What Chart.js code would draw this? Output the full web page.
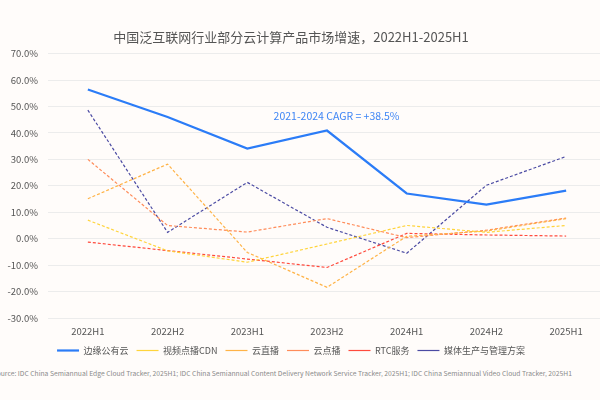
<!DOCTYPE html>
<html>
<head>
<meta charset="utf-8">
<script src="https://cdn.jsdelivr.net/npm/chart.js@4/dist/chart.umd.min.js"></script>
<style>
  html, body { margin: 0; padding: 0; background: #fffcfa; }
  body { width: 600px; height: 400px; overflow: hidden; position: relative; font-family: "Noto Sans CJK SC", "Noto Sans", sans-serif; }
  #wrap { position: absolute; left: -24px; top: 0; width: 630px; height: 367px; }
  #src { position: absolute; right: 28px; top: 368px; font-size: 6.76px; color: #8a8a8a; white-space: nowrap; }
</style>
</head>
<body>
<div id="wrap"><canvas id="chart"></canvas></div>
<div id="src">Source: IDC China Semiannual Edge Cloud Tracker, 2025H1; IDC China Semiannual Content Delivery Network Service Tracker, 2025H1; IDC China Semiannual Video Cloud Tracker, 2025H1</div>
<script>
const periods = ["2022H1", "2022H2", "2023H1", "2023H2", "2024H1", "2024H2", "2025H1"];
const seriesNames = ["边缘公有云", "视频点播CDN", "云直播", "云点播", "RTC服务", "媒体生产与管理方案"];
const edgeCloud = [56.4, 46.0, 34.1, 40.9, 17.1, 12.9, 18.2];
const vodCdn    = [7.0, -4.6, -8.9, -2.0, 5.0, 2.4, 5.0];
const liveCloud = [15.1, 28.2, -5.2, -18.4, 0.9, 2.9, 7.6];
const vodCloud  = [30.0, 5.0, 2.5, 7.6, 0.4, 3.2, 7.8];
const rtc       = [-1.3, -4.5, -7.7, -10.9, 2.0, 1.4, 1.0];
const media     = [48.6, 2.4, 21.3, 4.3, -5.5, 20.2, 31.1];
const yTicks = { min: -30, max: 70, step: 10 };
const titleText = "中国泛互联网行业部分云计算产品市场增速，2022H1-2025H1";
const cagrText = "2021-2024 CAGR = +38.5%";

const colors = ["#2b7cf7", "#ffd43b", "#ffb347", "#ff8c5a", "#ff4a3d", "#4b4ba3"];
const seriesData = [edgeCloud, vodCdn, liveCloud, vodCloud, rtc, media];
const font = (size) => ({ family: "'Noto Sans CJK SC', sans-serif", size, weight: "normal" });

const datasets = seriesData.map((d, i) => ({
  label: seriesNames[i],
  data: d,
  borderColor: colors[i],
  backgroundColor: colors[i],
  borderWidth: i === 0 ? 2.2 : 1.2,
  borderDash: i === 0 ? [] : [3, 2],
  pointRadius: 0,
  tension: 0,
}));

// CAGR note, placed by data coordinates
const cagrNote = {
  id: "cagrNote",
  afterDatasetsDraw(chart) {
    const { ctx, scales } = chart;
    ctx.save();
    ctx.font = "10.5px 'Noto Sans CJK SC', sans-serif";
    ctx.fillStyle = "#3f86f5";
    ctx.textAlign = "center";
    ctx.textBaseline = "middle";
    ctx.fillText(cagrText, scales.x.getPixelForValue(3.12), scales.y.getPixelForValue(46.5));
    ctx.restore();
  },
};

new Chart(document.getElementById("chart"), {
  type: "line",
  data: { labels: periods, datasets },
  plugins: [cagrNote],
  options: {
    responsive: true, maintainAspectRatio: false, animation: false,
    layout: { padding: { left: 0, right: 0, top: 29, bottom: 2 } },
    plugins: {
      title: {
        display: true, text: titleText, color: "#555", font: font(13),
        padding: { top: 0, bottom: 9 },
      },
      legend: {
        position: "bottom",
        labels: {
          usePointStyle: true, pointStyle: "line", pointStyleWidth: 22, boxHeight: 9,
          padding: 8, color: "#555", font: font(9),
        },
      },
      tooltip: { enabled: false },
    },
    scales: {
      x: {
        offset: true,
        grid: { display: false, drawTicks: false }, border: { display: false },
        ticks: { color: "#555", font: font(9.5), padding: 8, maxRotation: 0 },
        afterFit: (s) => { s.height = 20; },
      },
      y: {
        min: yTicks.min, max: yTicks.max,
        grid: { color: "#ececec", lineWidth: 1, drawTicks: false },
        border: { display: false },
        ticks: {
          stepSize: yTicks.step, color: "#555", padding: 10, font: font(9.5),
          callback: (v) => v.toFixed(1) + "%",
        },
        afterFit: (s) => { s.width = 72; },
      },
    },
  },
});
</script>
</body>
</html>
